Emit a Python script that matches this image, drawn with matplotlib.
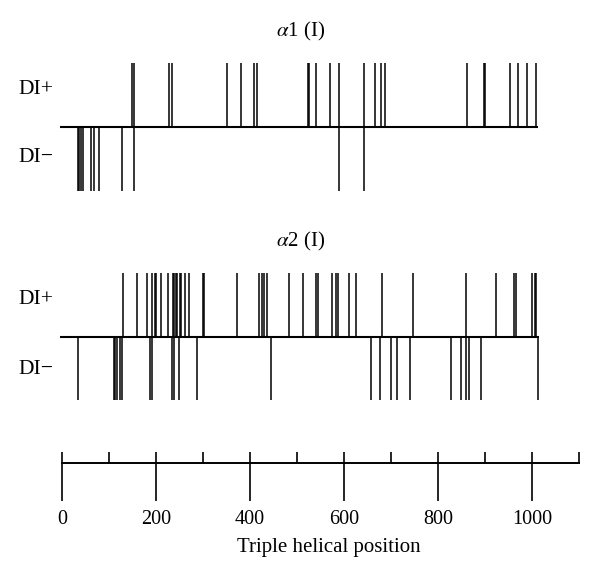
import matplotlib.pyplot as plt

plt.rcParams['font.family'] = ['Liberation Serif', 'DejaVu Serif']
plt.rcParams['mathtext.fontset'] = 'stix'

# 位置数据 (triple helical position)
a1_plus = [148, 154, 228, 235, 352, 381, 409, 415, 523, 526, 540, 570, 589,
           643, 666, 679, 687, 862, 898, 901, 953, 970, 990, 1008]
a1_minus = [34, 37, 40, 44, 61, 69, 79, 128, 154, 589, 643]

a2_plus = [130, 159, 180, 191, 197, 201, 211, 225, 236, 239, 242, 244, 250,
           253, 261, 270, 299, 302, 372, 419, 426, 430, 437, 483, 513, 540,
           545, 574, 584, 587, 611, 625, 681, 746, 860, 923, 962, 967,
           1001, 1006, 1009]
a2_minus = [33, 111, 113, 116, 123, 128, 187, 191, 234, 238, 249, 288, 445,
            657, 677, 701, 713, 740, 827, 848, 860, 865, 892, 1012]

titles = [r"$\alpha$1 (I)", r"$\alpha$2 (I)"]
major_ticks = [0, 200, 400, 600, 800, 1000]
minor_ticks = [0, 100, 200, 300, 400, 500, 600, 700, 800, 900, 1000, 1100]

# 像素 -> 数据坐标
px0 = 62
scale = 0.47
xlim = (-px0 / scale, (600 - px0) / scale)

W, H = 600, 576
fig = plt.figure(figsize=(W / 100, H / 100), dpi=100)


def panel(top, bottom, plus, minus, title, line_end, y_plus, y_minus):
    ax = fig.add_axes([0, (H - bottom) / H, 1, (bottom - top) / H])
    ax.set_xlim(*xlim)
    ax.set_ylim(-1, 1)
    ax.axis('off')
    ax.vlines(plus, 0, 1, color='black', lw=1.1)
    ax.vlines(minus, -1, 0, color='black', lw=1.1)
    ax.hlines(0, -4, line_end, color='black', lw=1.5)
    ax.text(-92, y_plus, "DI+", fontsize=15.5, ha='left', va='center')
    ax.text(-92, y_minus, "DI\u2212", fontsize=15.5, ha='left', va='center')
    ax.text(508, 1.5, title, fontsize=15, ha='center', va='center')
    return ax


panel(63, 191, a1_plus, a1_minus, titles[0], 1012, 0.58, -0.47)
panel(273, 400, a2_plus, a2_minus, titles[1], 1014, 0.58, -0.52)

# 坐标轴
ax = fig.add_axes([0, (H - 463) / H, 1, 20 / H])
ax.set_xlim(*xlim)
ax.set_yticks([])
for s in ['top', 'left', 'right']:
    ax.spines[s].set_visible(False)
ax.spines['bottom'].set_bounds(0, 1100)
ax.spines['bottom'].set_linewidth(1.4)
ax.patch.set_alpha(0)
ax.xaxis.remove_overlapping_locs = False
ax.set_xticks(major_ticks)
ax.set_xticks(minor_ticks, minor=True)
ax.tick_params(axis='x', which='major', direction='out', length=27.5,
               width=1.2, labelsize=14.5, pad=6)
ax.tick_params(axis='x', which='minor', direction='in', length=8,
               width=1.2)
ax.set_xlabel("Triple helical position", fontsize=15, labelpad=7)
ax.xaxis.label.set_x(329 / W)

fig.savefig("out.png", dpi=100)
